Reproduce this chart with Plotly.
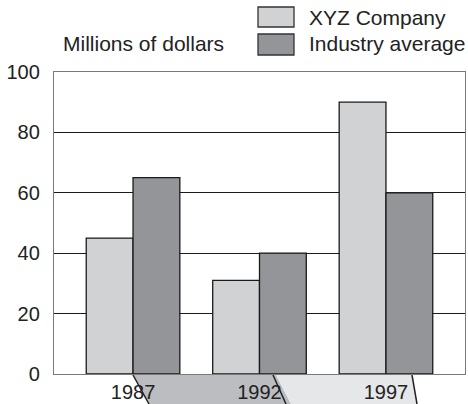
import plotly.graph_objects as go

years = ["1987", "1992", "1997"]
xyz_company = [45, 31, 90]
industry_average = [65, 40, 60]
y_ticks = [0, 20, 40, 60, 80, 100]

FONT = "Liberation Sans, Arial, Helvetica, sans-serif"
LIGHT = "#d1d2d4"
DARK = "#939598"

W, H = 468, 404
L, R, T, B = 54, 3, 72, 30
pw, ph = W - L - R, H - T - B

def px(x):
    return (x - L) / pw

def py(y):
    return (H - B - y) / ph

fig = go.Figure()
fig.add_trace(go.Bar(x=years, y=xyz_company, name="XYZ Company",
                     marker=dict(color=LIGHT, line=dict(color="#1a1a1a", width=1.3))))
fig.add_trace(go.Bar(x=years, y=industry_average, name="Industry average",
                     marker=dict(color=DARK, line=dict(color="#1a1a1a", width=1.3))))

shapes = []
# scan artefacts below the axis
shapes.append(dict(type="path", xref="paper", yref="paper", layer="below",
                   path=f"M {px(133)} {py(375)} L {px(276)} {py(375)} L {px(291)} {py(404)} L {px(149)} {py(404)} Z",
                   fillcolor="#bcbdc0", line=dict(width=0)))
shapes.append(dict(type="path", xref="paper", yref="paper", layer="below",
                   path=f"M {px(276)} {py(375)} L {px(412)} {py(375)} L {px(417)} {py(404)} L {px(291)} {py(404)} Z",
                   fillcolor="#e6e7e8", line=dict(width=0)))
for (x0, x1) in [(133, 149), (273, 286), (412, 417)]:
    shapes.append(dict(type="line", xref="paper", yref="paper", layer="below",
                       x0=px(x0), y0=py(375), x1=px(x1), y1=py(404),
                       line=dict(color="#222", width=1.5)))
# legend boxes
for (y0, y1, c) in [(7, 27, LIGHT), (34, 55, DARK)]:
    shapes.append(dict(type="rect", xref="paper", yref="paper",
                       x0=px(258), x1=px(294), y0=py(y1), y1=py(y0),
                       fillcolor=c, line=dict(color="#333", width=1.3)))

annotations = [
    dict(text="XYZ Company", xref="paper", yref="paper", x=px(307), y=py(17),
         xanchor="left", yanchor="middle", showarrow=False, font=dict(size=21, color="#222", family=FONT)),
    dict(text="Industry average", xref="paper", yref="paper", x=px(307), y=py(44),
         xanchor="left", yanchor="middle", showarrow=False, font=dict(size=21, color="#222", family=FONT)),
    dict(text="Millions of dollars", xref="paper", yref="paper", x=px(61), y=py(44),
         xanchor="left", yanchor="middle", showarrow=False, font=dict(size=21, color="#222", family=FONT)),
]

fig.update_layout(
    width=W, height=H,
    margin=dict(l=L, r=R, t=T, b=B, pad=0, autoexpand=False),
    paper_bgcolor="white", plot_bgcolor="white",
    barmode="group", bargap=0.26, bargroupgap=0,
    showlegend=False,
    font=dict(family=FONT, size=20, color="#222"),
    shapes=shapes, annotations=annotations,
)
fig.update_xaxes(range=[-0.625, 2.625], showgrid=False, showline=True, mirror=True,
                 linecolor="#7a7a7a", linewidth=1.3, ticks="", ticklen=0,
                 tickfont=dict(size=20, color="#222"), automargin=False)
fig.update_yaxes(range=[0, 100], tickvals=y_ticks, showgrid=True, gridcolor="#1a1a1a",
                 gridwidth=1.2, showline=True, mirror=True, linecolor="#7a7a7a", linewidth=1.3,
                 ticks="outside", ticklen=9, tickcolor="rgba(0,0,0,0)",
                 tickfont=dict(size=20, color="#222"), zeroline=False, automargin=False)

fig.write_html("out.html", config={"displayModeBar": False},
               post_script="document.body.style.margin='0';document.body.style.overflow='hidden';")
